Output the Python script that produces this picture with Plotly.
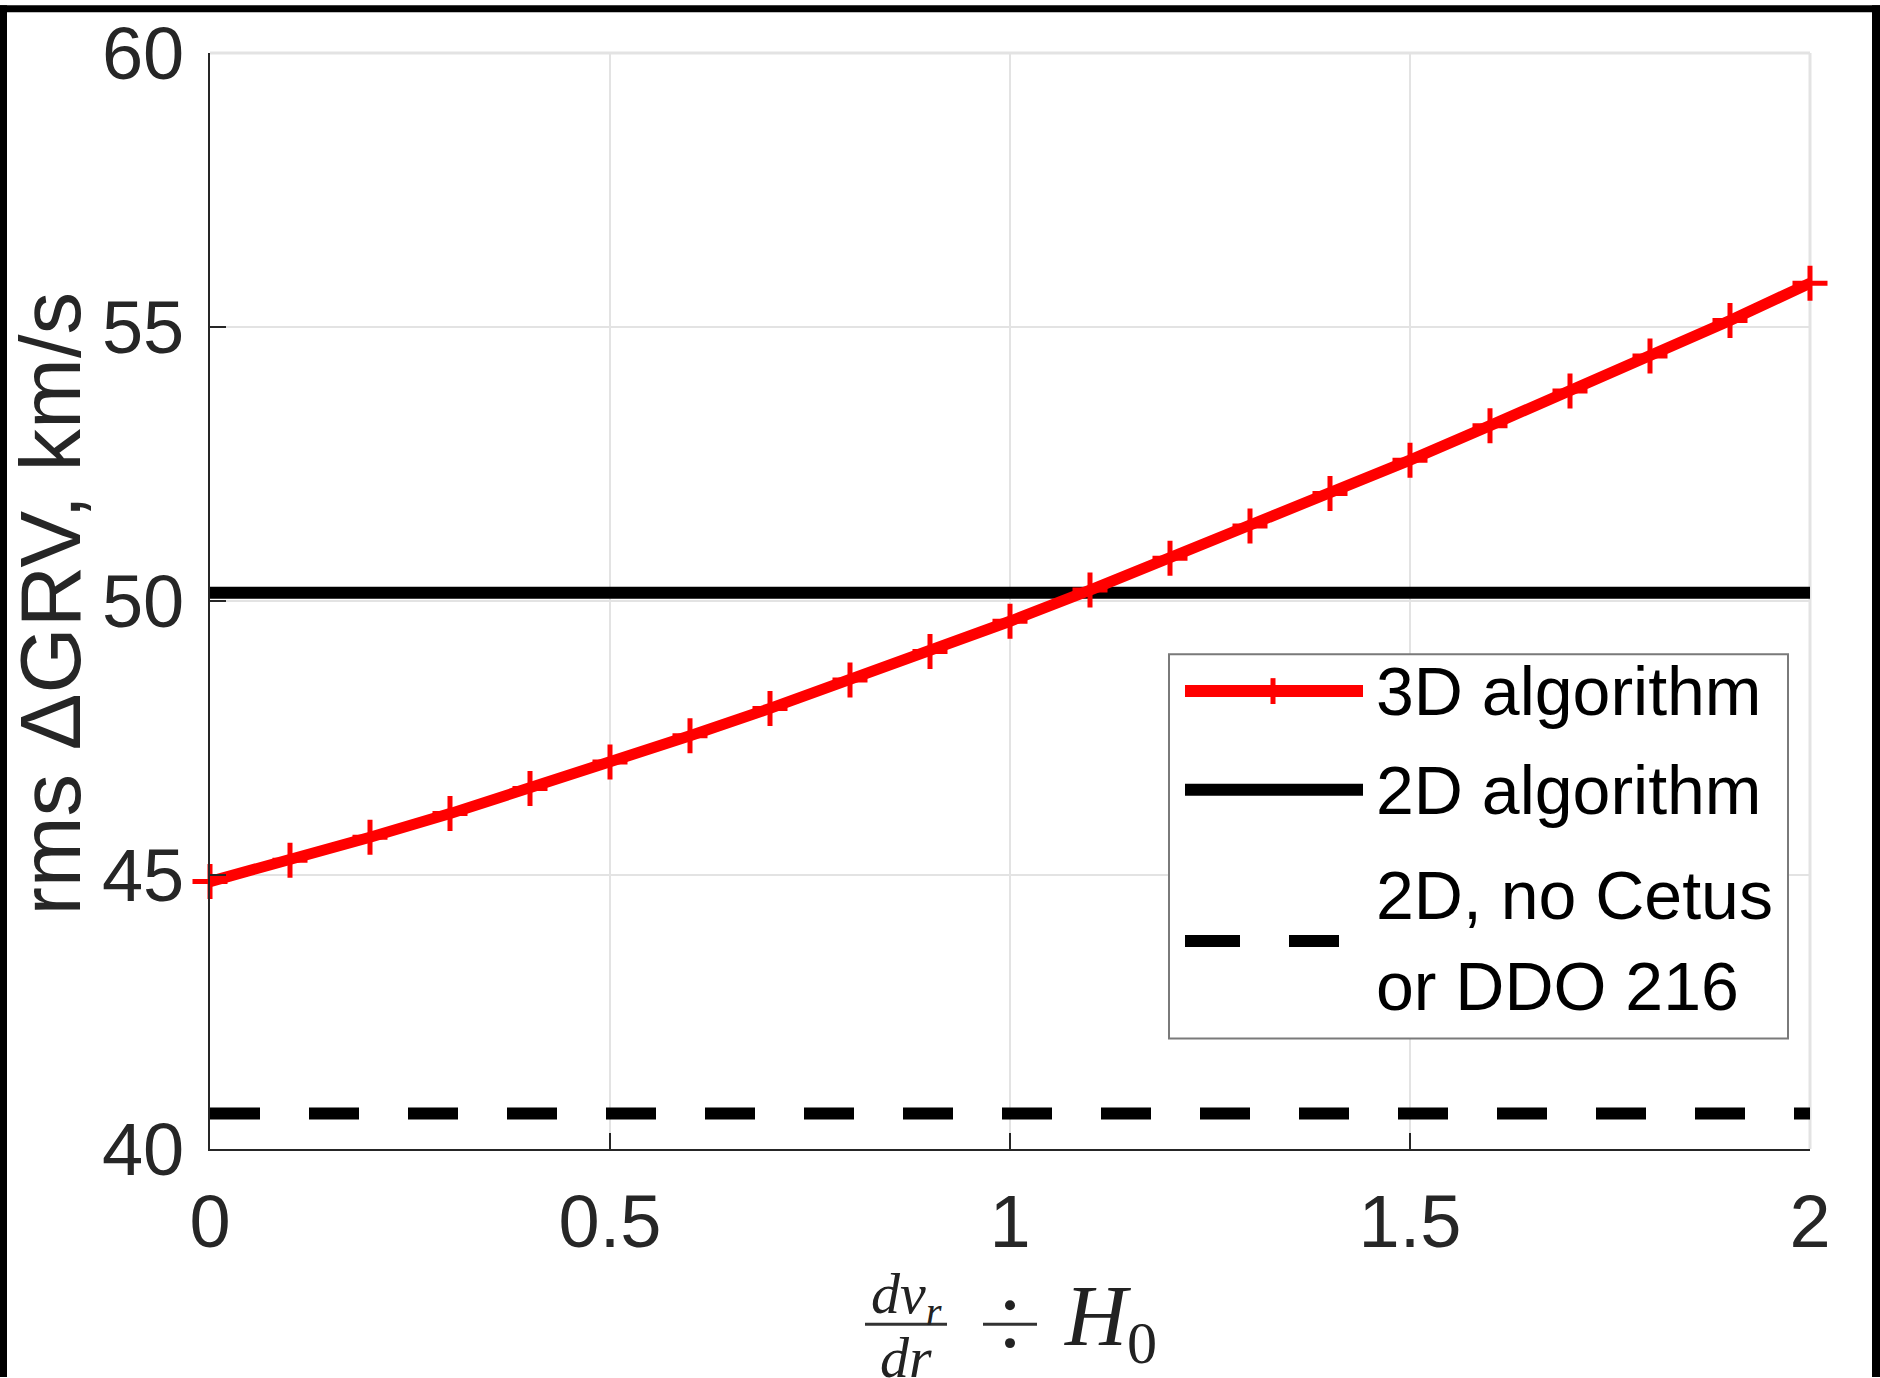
import plotly.graph_objects as go

# ---------------- data ----------------
x_ratio = [0.0, 0.1, 0.2, 0.3, 0.4, 0.5, 0.6, 0.7, 0.8, 0.9, 1.0,
           1.1, 1.2, 1.3, 1.4, 1.5, 1.6, 1.7, 1.8, 1.9, 2.0]
rms_3d = [44.88, 45.27, 45.69, 46.12, 46.58, 47.06, 47.54, 48.04, 48.56, 49.08, 49.63,
          50.20, 50.78, 51.37, 51.96, 52.57, 53.20, 53.83, 54.47, 55.12, 55.80]
rms_2d = 50.15
rms_2d_no_cetus = 40.65
x_ticks = [0, 0.5, 1, 1.5, 2]
x_tick_labels = ["0", "0.5", "1", "1.5", "2"]
y_ticks = [40, 45, 50, 55, 60]
y_tick_labels = ["40", "45", "50", "55", "60"]
legend_labels = ["3D algorithm", "2D algorithm", "2D, no Cetus", "or DDO 216"]

# ---------------- layout geometry (pixels) ----------------
W, H = 1880, 1378
L, R, T, B = 210, 1810, 48, 1149
PW, PH = R - L, B - T


def px(xp):
    return (xp - L) / PW


def py(yp):
    return (B - yp) / PH


AX = "#262626"
GRID = "#e3e3e3"
SANS = "Liberation Sans, Arial, Helvetica, sans-serif"
SERIF = "Liberation Serif, Times New Roman, serif"

fig = go.Figure()

fig.add_trace(go.Scatter(
    x=[x_ratio[0], x_ratio[-1]], y=[rms_2d_no_cetus, rms_2d_no_cetus],
    mode="lines", line=dict(color="black", width=12, dash="50px,49px"),
    showlegend=False, hoverinfo="skip"))
fig.add_trace(go.Scatter(
    x=[x_ratio[0], x_ratio[-1]], y=[rms_2d, rms_2d],
    mode="lines", line=dict(color="black", width=12),
    showlegend=False, hoverinfo="skip"))
fig.add_trace(go.Scatter(
    x=x_ratio, y=rms_3d, mode="lines+markers",
    line=dict(color="#ff0000", width=11),
    marker=dict(symbol="cross-thin", size=25, line=dict(color="#ff0000", width=5)),
    showlegend=False, cliponaxis=False))

shapes = []
# light top / right box lines
shapes.append(dict(type="line", xref="paper", yref="paper", x0=0, x1=1, y0=1, y1=1,
                   line=dict(color=GRID, width=3), layer="below"))
shapes.append(dict(type="line", xref="paper", yref="paper", x0=1, x1=1, y0=0, y1=1,
                   line=dict(color=GRID, width=3), layer="below"))

# legend box
shapes.append(dict(type="rect", xref="paper", yref="paper",
                   x0=px(1169), x1=px(1788), y0=py(1038), y1=py(652),
                   line=dict(color="#7a7a7a", width=2), fillcolor="white", layer="above"))
# legend samples
shapes.append(dict(type="line", xref="paper", yref="paper", x0=px(1185), x1=px(1363),
                   y0=py(689), y1=py(689), line=dict(color="#ff0000", width=12)))
shapes.append(dict(type="line", xref="paper", yref="paper", x0=px(1273), x1=px(1273),
                   y0=py(676), y1=py(702), line=dict(color="#ff0000", width=5)))
shapes.append(dict(type="line", xref="paper", yref="paper", x0=px(1185), x1=px(1363),
                   y0=py(788), y1=py(788), line=dict(color="black", width=12)))
shapes.append(dict(type="line", xref="paper", yref="paper", x0=px(1185), x1=px(1240),
                   y0=py(940), y1=py(940), line=dict(color="black", width=12)))
shapes.append(dict(type="line", xref="paper", yref="paper", x0=px(1289), x1=px(1339),
                   y0=py(940), y1=py(940), line=dict(color="black", width=12)))

# x-axis title fraction bar
shapes.append(dict(type="line", xref="paper", yref="paper", x0=px(865), x1=px(947),
                   y0=py(1325), y1=py(1325), line=dict(color="#333333", width=3)))
# divide sign
shapes.append(dict(type="line", xref="paper", yref="paper", x0=px(983), x1=px(1037),
                   y0=py(1325), y1=py(1325), line=dict(color="#333333", width=3)))
shapes.append(dict(type="circle", xref="paper", yref="paper", x0=px(1005), x1=px(1015),
                   y0=py(1301), y1=py(1311), fillcolor="#222222", line=dict(width=0)))
shapes.append(dict(type="circle", xref="paper", yref="paper", x0=px(1005), x1=px(1015),
                   y0=py(1339), y1=py(1349), fillcolor="#222222", line=dict(width=0)))

# black frame around the picture (top, left, right)
shapes.append(dict(type="rect", xref="paper", yref="paper", x0=px(0), x1=px(7),
                   y0=py(H), y1=py(0), fillcolor="black", line=dict(width=0)))
shapes.append(dict(type="rect", xref="paper", yref="paper", x0=px(0), x1=px(W),
                   y0=py(7), y1=py(0), fillcolor="black", line=dict(width=0)))
shapes.append(dict(type="rect", xref="paper", yref="paper", x0=px(1872), x1=px(W),
                   y0=py(H), y1=py(0), fillcolor="black", line=dict(width=0)))

annotations = []
leg_y = [689, 788, 894, 985]
for lab, yy in zip(legend_labels, leg_y):
    annotations.append(dict(text=lab, xref="paper", yref="paper", x=px(1374), y=py(yy),
                            xanchor="left", yanchor="middle", showarrow=False,
                            font=dict(family=SANS, size=68, color="black")))

# y-axis title
annotations.append(dict(text="rms \u0394GRV, km/s", xref="paper", yref="paper",
                        x=px(50), y=py(601), xanchor="center", yanchor="middle",
                        textangle=-90, showarrow=False,
                        font=dict(family=SANS, size=85, color=AX)))

# x-axis title pieces
annotations.append(dict(text="<i>dv</i><sub><i>r</i></sub>", xref="paper", yref="paper",
                        x=px(906), y=py(1298), xanchor="center", yanchor="middle",
                        showarrow=False, font=dict(family=SERIF, size=58, color="#222222")))
annotations.append(dict(text="<i>dr</i>", xref="paper", yref="paper",
                        x=px(906), y=py(1358), xanchor="center", yanchor="middle",
                        showarrow=False, font=dict(family=SERIF, size=58, color="#222222")))
annotations.append(dict(text="<i>H</i><sub>0</sub>", xref="paper", yref="paper",
                        x=px(1062), y=py(1323), xanchor="left", yanchor="middle",
                        showarrow=False, font=dict(family=SERIF, size=86, color="#222222")))

fig.update_layout(
    width=W, height=H,
    margin=dict(l=L, r=W - R, t=T, b=H - B, pad=0),
    paper_bgcolor="white", plot_bgcolor="white",
    shapes=shapes, annotations=annotations, showlegend=False,
    font=dict(family=SANS, color=AX),
)
fig.update_xaxes(
    range=[0, 2], tickvals=x_ticks, ticktext=x_tick_labels,
    showgrid=True, gridcolor=GRID, gridwidth=2,
    showline=True, linecolor=AX, linewidth=2, mirror=False,
    ticks="inside", ticklen=16, tickwidth=2, tickcolor=AX,
    tickfont=dict(family=SANS, size=74, color=AX),
    zeroline=False, ticklabelstandoff=7,
)
fig.update_yaxes(
    range=[40, 60], tickvals=y_ticks, ticktext=y_tick_labels,
    showgrid=True, gridcolor=GRID, gridwidth=2,
    showline=True, linecolor=AX, linewidth=2, mirror=False,
    ticks="inside", ticklen=16, tickwidth=2, tickcolor=AX,
    tickfont=dict(family=SANS, size=74, color=AX),
    zeroline=False, ticklabelstandoff=9,
)

fig.write_html("out.html", config={"displayModeBar": False},
               post_script="document.body.style.margin='0';document.body.style.overflow='hidden';window.scrollTo(0,0);")
